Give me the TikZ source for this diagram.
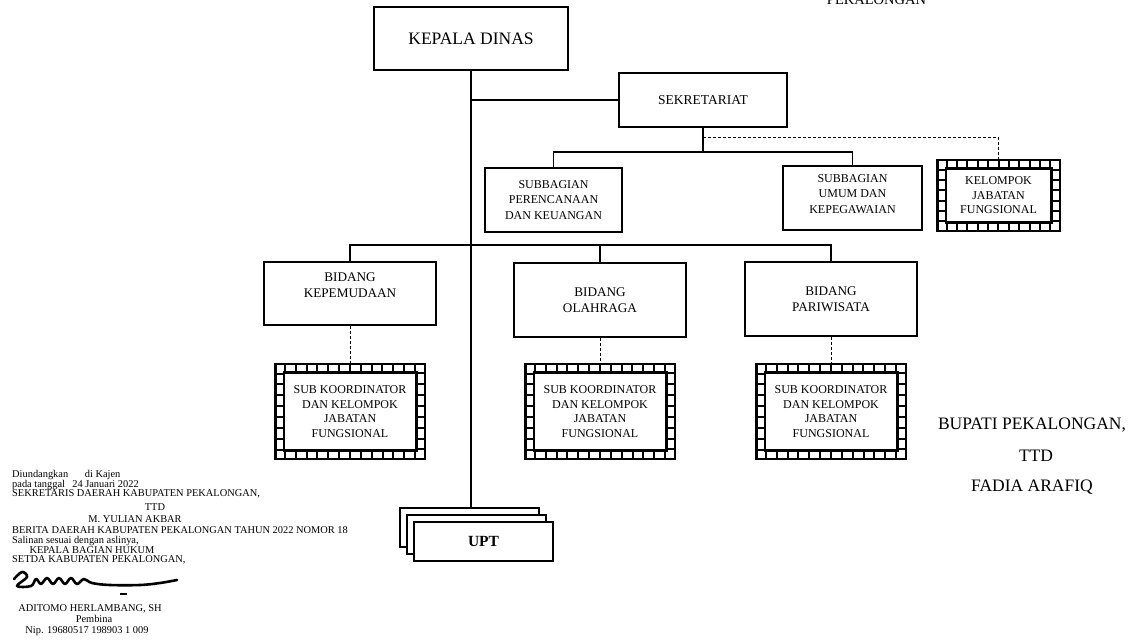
\documentclass[tikz,border=0pt]{standalone}
\usepackage{fontspec}
\setmainfont{Liberation Serif}
\tikzset{
  unit/.style={draw, line width=1.6pt, fill=white, align=center, inner sep=2pt,
               font=\fontsize{12}{15.5}\selectfont},
  bidang/.style={unit, minimum width=172pt, font=\fontsize{13.2}{16.5}\selectfont},
  fungsional/.style 2 args={draw, line width=11pt, fill=white, align=center, inner sep=0pt,
               font=\fontsize{12}{14.5}\selectfont,
               postaction={draw=white, line width=6pt},
               postaction={draw=black, line width=6.2pt, dash pattern=on 2pt off #1, dash phase=#2}},
  garis/.style={line width=1.6pt},
  putus/.style={line width=0.8pt, dash pattern=on 3pt off 2pt},
  catatan/.style={anchor=base west, inner sep=0pt, font=\fontsize{10.4}{11}\selectfont},
  tengah/.style={catatan, anchor=base},
  pengesah/.style={anchor=base, inner sep=0pt, font=\fontsize{17.5}{20}\selectfont}
}
\begin{document}
\begin{tikzpicture}[x=1pt,y=-1pt]
\useasboundingbox (0,0) rectangle (1134,644);

% struktur
\node[unit, minimum width=194pt, minimum height=63pt, font=\fontsize{17.5}{20}\selectfont]
  (kepala) at (471,38.5) {KEPALA DINAS};
\node[unit, minimum width=168pt, minimum height=54pt, font=\fontsize{13.5}{16}\selectfont]
  (sekretariat) at (703,100) {SEKRETARIAT};
\node[unit, minimum width=137pt, minimum height=64pt] (perencanaan) at (553.5,200)
  {SUBBAGIAN\\PERENCANAAN\\DAN KEUANGAN};
\node[unit, minimum width=139pt, minimum height=64pt] (umum) at (852.5,198)
  {SUBBAGIAN\\UMUM DAN\\KEPEGAWAIAN\\[-7pt]\mbox{}};
\node[fungsional={8.36pt}{6.18pt}, minimum width=114pt, minimum height=62.16pt] (kjf) at (998.5,195.5)
  {KELOMPOK\\JABATAN\\FUNGSIONAL};

\node[bidang, minimum height=63pt] (kepemudaan) at (350,293.5) {BIDANG\\KEPEMUDAAN\\\mbox{}};
\node[bidang, minimum height=74pt] (olahraga) at (600,300) {BIDANG\\OLAHRAGA};
\node[bidang, minimum height=74pt] (pariwisata) at (831,299) {BIDANG\\PARIWISATA};

\foreach \nama/\x in {skdk1/350, skdk2/600, skdk3/831}
  \node[fungsional={8.85pt}{6.425pt}, minimum width=141pt, minimum height=86.8pt] (\nama) at (\x,411.5)
    {SUB KOORDINATOR\\DAN KELOMPOK\\JABATAN\\FUNGSIONAL};

\node[unit, minimum width=139pt, minimum height=39pt] (upt3) at (469.5,527.5) {};
\node[unit, minimum width=139pt, minimum height=39pt] (upt2) at (476.5,534.5) {};
\node[unit, minimum width=139pt, minimum height=39pt, font=\bfseries\fontsize{15.5}{18}\selectfont]
  (upt) at (483.5,541.5) {UPT};

% garis
\draw[garis] (kepala.south) -- (kepala.south |- upt3.north);
\draw[garis] (kepala.south |- sekretariat.west) -- (sekretariat.west);
\coordinate (cabang) at ([yshift=-24pt]sekretariat.south);
\draw[garis] (sekretariat.south) -- (cabang);
\draw[garis] (perencanaan.north) |- (cabang) -| (umum.north);
\draw[putus] ([yshift=-10pt]sekretariat.south) -| (kjf.north);
\draw[garis] (kepemudaan.north) -- ++(0,-16) -| (pariwisata.north);
\draw[garis] (olahraga.north) -- ++(0,-17);
\foreach \b/\s in {kepemudaan/skdk1, olahraga/skdk2, pariwisata/skdk3}
  \draw[putus] (\b.south) -- (\s.north);

% teks pinggir
\node[anchor=base, inner sep=0pt, font=\fontsize{14.5}{16}\selectfont] (kota) at (876.5,4.5) {PEKALONGAN};

\node[pengesah] (bupati) at (1032,429) {BUPATI PEKALONGAN,};
\node[pengesah] (ttdbupati) at (1036,461) {TTD};
\node[pengesah] (namabupati) at (1032,491) {FADIA ARAFIQ};

\node[catatan] (undang) at (12,477.5) {Diundangkan\hspace{1.6em}di Kajen};
\node[catatan] (tanggal) at (12,487) {pada tanggal\hspace{0.7em}24 Januari 2022};
\node[catatan] (sekda) at (12,496.5) {SEKRETARIS DAERAH KABUPATEN PEKALONGAN,};
\node[tengah] (ttdsekda) at (155,510.5) {TTD};
\node[tengah] (namasekda) at (135,522.5) {M. YULIAN AKBAR};
\node[catatan] (berita) at (12,533.5) {BERITA DAERAH KABUPATEN PEKALONGAN TAHUN 2022 NOMOR 18};
\node[catatan] (salinan) at (12,543.5) {Salinan sesuai dengan aslinya,};
\node[tengah] (kabag) at (92,553.5) {KEPALA BAGIAN HUKUM};
\node[catatan] (setda) at (12,562.5) {SETDA KABUPATEN PEKALONGAN,};
\node[tengah] (namakabag) at (90,611.5) {ADITOMO HERLAMBANG, SH};
\node[tengah] (pangkat) at (94,622.5) {Pembina};
\node[tengah] (nip) at (87,633.5) {Nip. 19680517 198903 1 009};

% paraf
\draw[line width=2.6pt, line join=round, line cap=round]
  plot[smooth, tension=0.6] coordinates {(14,579) (22,572) (27,577) (17,586) (31,586)
    (36,579) (41,584) (47,578) (53,584) (59,578) (65,584) (71,578) (77,584) (84,579)
    (92,583) (110,585) (140,585) (160,583) (177,580)};
\draw[line width=1.5pt] (120,594) -- (127,594);
\end{tikzpicture}
\end{document}
